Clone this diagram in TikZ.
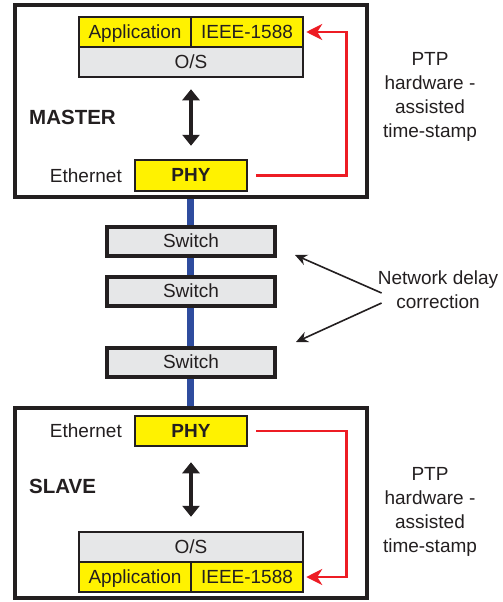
\documentclass[tikz,border=0pt]{standalone}
\usepackage{fontspec}
\setmainfont{Liberation Sans}
\usetikzlibrary{backgrounds}
\usetikzlibrary{arrows.meta}
\definecolor{ink}{HTML}{231F20}
\definecolor{chipyellow}{HTML}{FFF200}
\definecolor{osgray}{HTML}{E6E7E8}
\definecolor{wireblue}{HTML}{2E4C9E}
\definecolor{stampred}{HTML}{ED1C24}

\begin{document}
\begin{tikzpicture}[x=1pt,y=-1pt,
    every node/.style={inner sep=0pt,text=ink,font=\fontsize{19}{24}\selectfont},
    frame/.style={draw=ink,line width=4pt,fill=white,minimum width=352.5pt},
    cell/.style={draw=ink,line width=2.5pt,minimum height=30pt,minimum width=112pt,fill=chipyellow,text height=12.5pt,text depth=0pt},
    switchbox/.style={draw=ink,line width=4pt,fill=osgray,minimum width=168pt,minimum height=29pt,text height=12pt,text depth=0pt},
    duplex/.style={{Triangle[length=11pt,width=17pt]}-{Triangle[length=11pt,width=17pt]},line width=4.5pt,draw=ink},
    stamp/.style={-{Stealth[length=16pt,width=16pt,inset=5pt]},line width=2.6pt,draw=stampred},
    pointer/.style={-{Stealth[length=12pt,width=11pt]},line width=1.6pt,draw=ink}]
          \useasboundingbox (0,0) rectangle (503,602);

          \node[frame,minimum height=192pt] (master) at (190.75,101) {};
          \node[anchor=west,font=\fontsize{20.5}{23}\selectfont\bfseries] (mlabel) at (29,117) {MASTER};
          \node[cell] (appM) at (135,32) {Application};
          \node[cell] (ieeeM) at (247,32) {IEEE-1588};
          \node[cell,fill=osgray,minimum width=224pt] (osM) at (191,62) {O/S};
          \node[cell,minimum height=31pt,font=\fontsize{19}{24}\selectfont\bfseries] (phyM) at (191,175.5) {PHY};
          \node[anchor=east] (ethM) at (122,175.5) {Ethernet};
          \node[align=center] (ptpM) at (430,97) {PTP\\hardware -\\assisted\\time-stamp};
          \draw[duplex,shorten <=11pt,shorten >=13pt] (osM.south) -- (phyM.north);
          \draw[stamp] ([xshift=8pt]phyM.east) -| ([xshift=42pt]ieeeM.east) -- ([xshift=2pt]ieeeM.east);

          \node[switchbox] (sw1) at (191,241.5) {Switch};
          \node[switchbox] (sw2) at (191,291) {Switch};
          \node[switchbox] (sw3) at (191,362.5) {Switch};
          \node[align=center] (delay) at (438,290) {Network delay\\correction};
          \coordinate (tip1) at (295,255);
          \coordinate (tip2) at (296,342);
          \draw[pointer] ([xshift=4pt,yshift=-3pt]delay.west) -- (tip1);
          \draw[pointer] ([xshift=4pt,yshift=-13pt]delay.west) -- (tip2);

          \node[frame,minimum height=190pt] (slave) at (190.75,502.5) {};
          \node[anchor=west,font=\fontsize{20.5}{23}\selectfont\bfseries] (slabel) at (29,486) {SLAVE};
          \node[cell,minimum height=30pt,font=\fontsize{19}{24}\selectfont\bfseries] (phyS) at (191,431) {PHY};
          \node[anchor=east] (ethS) at (122,431) {Ethernet};
          \node[cell,fill=osgray,minimum width=224pt] (osS) at (191,547) {O/S};
          \node[cell] (appS) at (135,577) {Application};
          \node[cell] (ieeeS) at (247,577) {IEEE-1588};
          \node[align=center] (ptpS) at (430,512) {PTP\\hardware -\\assisted\\time-stamp};
          \draw[duplex,shorten <=15pt,shorten >=14pt] (phyS.south) -- (osS.north);
          \draw[stamp] ([xshift=8pt]phyS.east) -| ([xshift=42pt]ieeeS.east) -- ([xshift=2pt]ieeeS.east);

          \begin{scope}[on background layer]
            \draw[wireblue,line width=7pt] (master.south) -- (slave.north);
          \end{scope}
\end{tikzpicture}
\end{document}
